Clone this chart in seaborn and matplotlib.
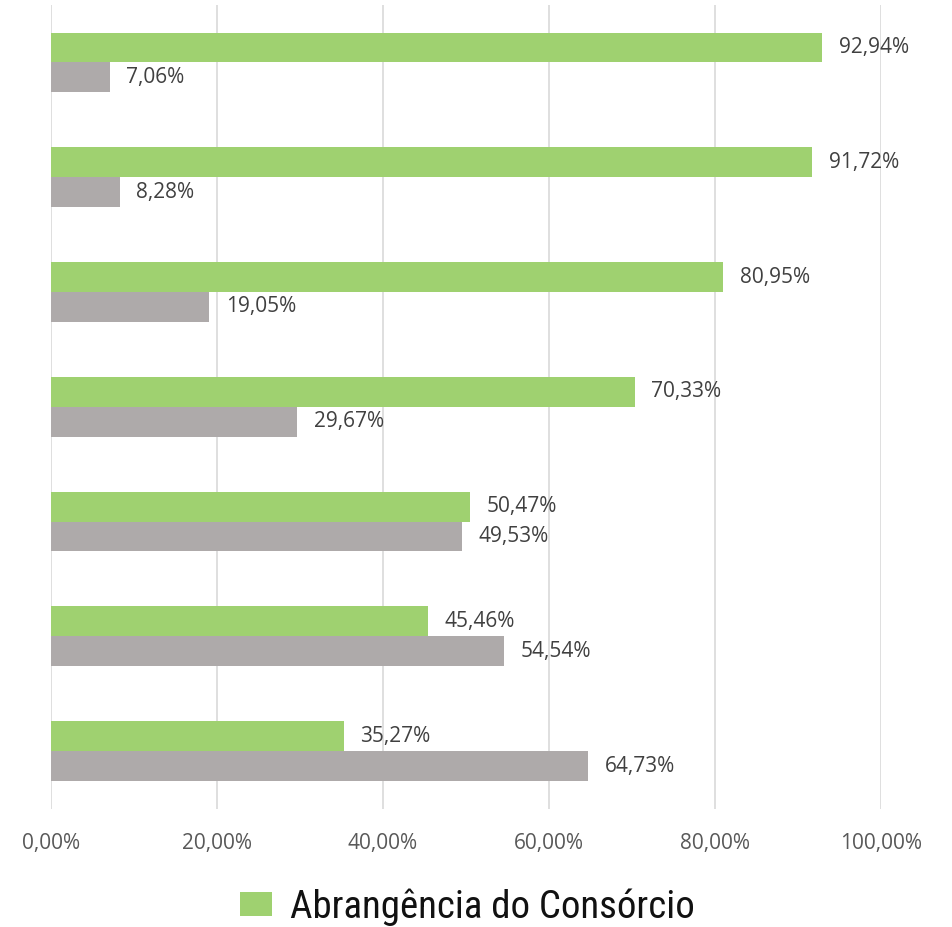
import matplotlib
matplotlib.use("Agg")
import matplotlib.pyplot as plt
import seaborn as sns
import pandas as pd
from matplotlib.patches import Patch
from matplotlib.ticker import FuncFormatter

categories = ["G1", "G2", "G3", "G4", "G5", "G6", "G7"]
series_names = ["Abrangência do Consórcio", "Fora do Consórcio"]
green_values = [92.94, 91.72, 80.95, 70.33, 50.47, 45.46, 35.27]
gray_values = [7.06, 8.28, 19.05, 29.67, 49.53, 54.54, 64.73]
x_ticks = [0, 20, 40, 60, 80, 100]

df = pd.DataFrame({
    "categoria": categories * 2,
    "serie": [series_names[0]] * len(categories) + [series_names[1]] * len(categories),
    "valor": green_values + gray_values,
})

sns.set_theme(style="white")
plt.rcParams["font.family"] = ["Open Sans", "DejaVu Sans"]

GREEN = "#9FD170"
GRAY = "#AEAAAA"

fig = plt.figure(figsize=(9.53, 9.27), dpi=100)
ax = fig.add_axes([51 / 953, 118.5 / 927, (881 - 51) / 953, (922 - 118.5) / 927])

sns.barplot(data=df, y="categoria", x="valor", hue="serie", orient="h",
            palette=[GREEN, GRAY], width=0.52, ax=ax, legend=False,
            saturation=1.0, edgecolor="none")

for cont in ax.containers:
    labels = [f"{v:.2f}%".replace(".", ",") for v in cont.datavalues]
    ax.bar_label(cont, labels=labels, padding=12, fontsize=15, color="#404040")

ax.set_xlim(0, 100)
ax.set_xticks(x_ticks)
ax.xaxis.set_major_formatter(FuncFormatter(lambda v, p: f"{v:.2f}%".replace(".", ",")))
ax.tick_params(axis="x", labelsize=15, labelcolor="#595959", length=0, pad=18)
ax.set_yticks([])
ax.set_xlabel("")
ax.set_ylabel("")
ax.grid(axis="x", color="#D9D9D9", linewidth=1.2)
ax.set_axisbelow(True)
for s in ax.spines.values():
    s.set_visible(False)

handles = [Patch(facecolor=GREEN, edgecolor="none", label=series_names[0])]
fig.legend(handles=handles, loc="center", bbox_to_anchor=(467.5 / 953, 0.0215),
           frameon=False, handlelength=0.82, handleheight=0.57, handletextpad=0.46,
           prop={"family": ["Roboto Condensed", "DejaVu Sans"], "size": 28},
           labelcolor="#111111")

fig.savefig("out.png", dpi=100)
